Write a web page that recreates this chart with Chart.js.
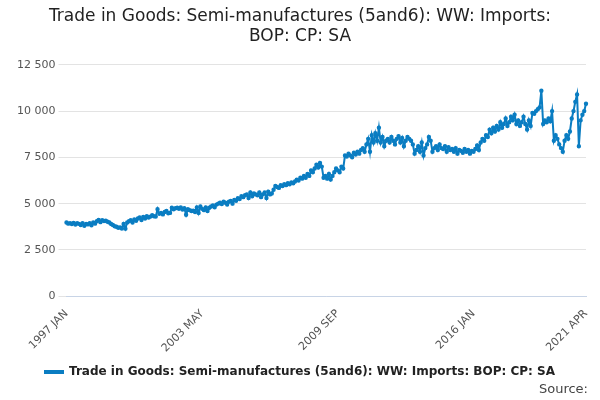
<!DOCTYPE html>
<html>
<head>
<meta charset="utf-8">
<script src="https://cdn.jsdelivr.net/npm/chart.js@4"></script>
<style>
  html, body { margin: 0; padding: 0; background: #fff; }
  #wrap { width: 600px; height: 400px; position: relative; }
  #source { position: absolute; right: 12px; bottom: 4px; font: 13px "DejaVu Sans", sans-serif; color: #444; }
</style>
</head>
<body>
<div id="wrap"><canvas id="chart" width="600" height="400"></canvas><div id="source">Source:</div></div>
<script>
  const months = ['JAN', 'FEB', 'MAR', 'APR', 'MAY', 'JUN', 'JUL', 'AUG', 'SEP', 'OCT', 'NOV', 'DEC'];

  // Monthly values, one row per year (1997 JAN - 2021 APR)
  const values = [
    3980, 3920, 3950, 3900, 3960, 3870, 3940, 3910, 3850, 3950, 3800, 3900,
    3880, 3950, 3830, 3990, 3920, 4050, 4120, 4000, 4100, 4060, 4080, 4020,
    3980, 3900, 3850, 3780, 3750, 3700, 3720, 3660, 3900, 3650, 3980, 4050,
    4100, 3980, 4150, 4080, 4200, 4250, 4120, 4280, 4200, 4320, 4250, 4300,
    4380, 4320, 4300, 4700, 4450, 4500, 4420, 4550, 4600, 4480, 4500, 4780,
    4700, 4750, 4780, 4720, 4800, 4680, 4750, 4400, 4700, 4650, 4600, 4620,
    4550, 4800, 4500, 4850, 4720, 4650, 4800, 4600, 4780, 4850, 4900, 4800,
    4950, 5000, 5050, 4980, 5100, 5050, 4950, 5100, 5150, 5000, 5200, 5150,
    5300, 5250, 5400, 5350, 5450, 5500, 5300, 5600, 5400, 5550, 5500, 5450,
    5600, 5350, 5500, 5600, 5300, 5650, 5500, 5550, 5750, 5950, 5900, 5850,
    6000, 5950, 6050, 6000, 6100, 6050, 6150, 6100, 6200, 6300, 6250, 6400,
    6350, 6500, 6400, 6600, 6500, 6800, 6700, 6900, 7100, 6950, 7200, 7000,
    6400, 6500, 6350, 6600, 6300, 6500, 6700, 6900, 6800, 6700, 7000, 6900,
    7600, 7550, 7700, 7600, 7500, 7750, 7650, 7800, 7700, 7900, 8000, 7800,
    8200, 8500, 7800, 8700, 8300, 8800, 8400, 9100, 8300, 8600, 8100, 8400,
    8500, 8300, 8600, 8400, 8200, 8500, 8650, 8300, 8550, 8100, 8400, 8600,
    8500, 8400, 8200, 7700, 7900, 8100, 7800, 8300, 7600, 8000, 8200, 8600,
    8400, 7800, 8000, 8100, 7900, 8200, 8000, 7950, 8100, 7800, 8050, 7900,
    7950, 7800, 8000, 7700, 7900, 7850, 7750, 7950, 7800, 7900, 7700, 7850,
    7800, 7950, 8150, 7900, 8300, 8500, 8400, 8700, 8600, 9000, 8800, 9100,
    8900, 9200, 9000, 9400, 9100, 9300, 9600, 9200, 9400, 9700, 9500, 9800,
    9300, 9500, 9200, 9400, 9700, 9300, 9000, 9500, 9200, 9900, 9850, 10000,
    10100, 10200, 11100, 9300, 9500, 9400, 9600, 9450, 10000, 8400, 8700, 8500,
    8200, 8000, 7800, 8400, 8700, 8500, 8900, 9600, 10000, 10500, 10900, 8100,
    9500, 9800, 10000, 10400
  ];

  const labels = values.map((v, i) => (1997 + Math.floor(i / 12)) + ' ' + months[i % 12]);
  const tickLabels = ['1997 JAN', '2003 MAY', '2009 SEP', '2016 JAN', '2021 APR'];
  const seriesName = 'Trade in Goods: Semi-manufactures (5and6): WW: Imports: BOP: CP: SA';
  const color = '#0a7dc2';

  Chart.defaults.font.family = '"DejaVu Sans", sans-serif';

  new Chart(document.getElementById('chart').getContext('2d'), {
    type: 'line',
    data: {
      labels: labels,
      datasets: [{
        label: seriesName,
        data: values,
        borderColor: color,
        backgroundColor: color,
        borderWidth: 2,
        pointRadius: 1.2,
        pointHoverRadius: 3,
        tension: 0
      }]
    },
    options: {
      responsive: false,
      animation: false,
      layout: { padding: { left: 14, right: 14, bottom: 12 } },
      plugins: {
        title: {
          display: true,
          text: ['Trade in Goods: Semi-manufactures (5and6): WW: Imports:', 'BOP: CP: SA'],
          font: { size: 17, weight: 'normal' },
          color: '#222',
          padding: { top: 6, bottom: 18 }
        },
        legend: {
          position: 'bottom',
          labels: { color: '#222', font: { size: 12, weight: 'bold' }, boxWidth: 18, boxHeight: 2, padding: 8 }
        }
      },
      scales: {
        x: {
          grid: { display: false },
          border: { color: '#c8d4e6' },
          ticks: {
            autoSkip: false,
            maxRotation: 45,
            minRotation: 45,
            color: '#555',
            font: { size: 11 },
            callback: function (v) {
              const l = this.getLabelForValue(v);
              return tickLabels.includes(l) ? l : null;
            }
          }
        },
        y: {
          min: 0,
          max: 12500,
          grid: { color: '#e3e3e3' },
          border: { display: false },
          ticks: {
            stepSize: 2500,
            color: '#555',
            font: { size: 11 },
            callback: v => v.toLocaleString('en-US').replace(',', ' ')
          }
        }
      }
    }
  });
</script>
</body>
</html>
